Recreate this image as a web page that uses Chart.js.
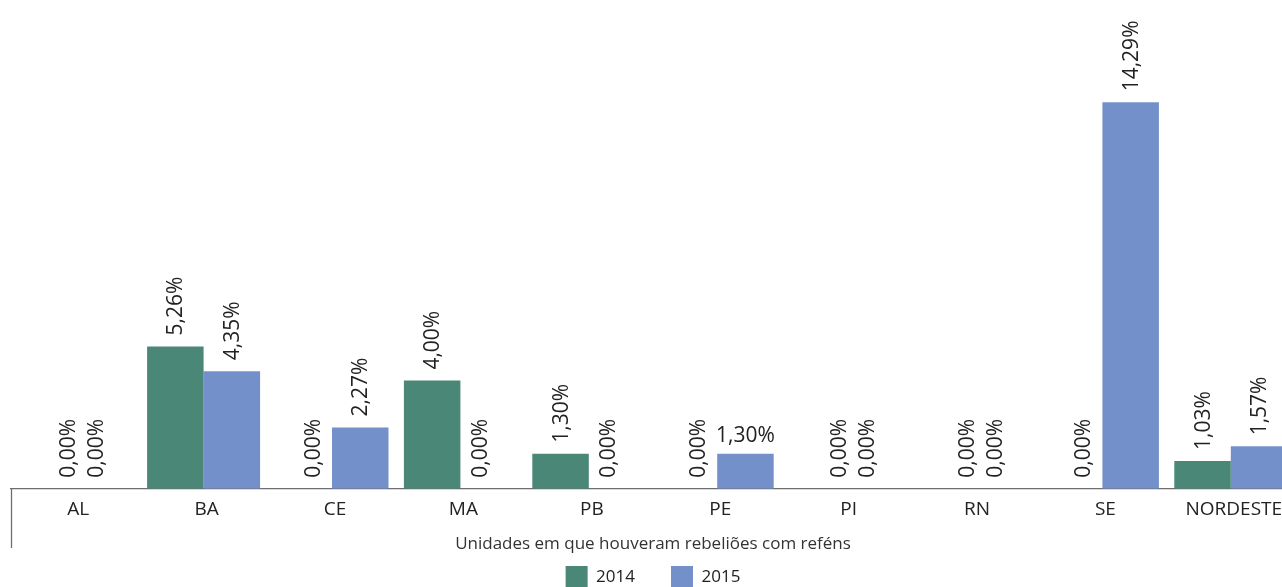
<!DOCTYPE html>
<html lang="pt-BR">
<head>
<meta charset="utf-8">
<title>Rebeliões com reféns</title>
<script src="https://cdn.jsdelivr.net/npm/chart.js@4.4.1/dist/chart.umd.min.js"></script>
<style>
  html, body { margin:0; padding:0; background:#fff; overflow:hidden; }
  #wrap { position:relative; width:1295px; height:598px; }
</style>
</head>
<body>
<div id="wrap"><canvas id="grafico"></canvas></div>
<script>
// dados (percentual de unidades com rebeliões com reféns)
const categorias = ['AL', 'BA', 'CE', 'MA', 'PB', 'PE', 'PI', 'RN', 'SE', 'NORDESTE'];
const serie2014 = [0, 5.26, 0, 4.00, 1.30, 0, 0, 0, 0, 1.03];
const serie2015 = [0, 4.35, 2.27, 0, 0, 1.30, 0, 0, 14.29, 1.57];
const anos = ['2014', '2015'];
const eixoTitulo = 'Unidades em que houveram rebeliões com reféns';
// rótulo que o original mostra na horizontal (ano -> categorias)
const rotulosDeitados = { '2015': ['PE'] };

const cores = ['#4A8776', '#7490CA'];
const fonte = '"Open Sans", "DejaVu Sans", sans-serif';
const pct = v => v.toFixed(2).replace('.', ',') + '%';

// rótulos de valor acima das barras
const rotulos = {
  id: 'rotulos',
  afterDatasetsDraw(chart) {
    const ctx = chart.ctx, xs = chart.scales.x;
    const dsets = chart.data.datasets;
    ctx.save();
    ctx.font = '21px ' + fonte;
    ctx.fillStyle = '#222';
    dsets.forEach((ds, d) => {
      chart.getDatasetMeta(d).data.forEach((bar, i) => {
        const v = ds.data[i];
        const centro = xs.getPixelForValue(i);
        let x = bar.x;
        if (v === 0) {
          const outro = dsets[1 - d].data[i];
          if (outro === 0) x = centro + 7 + (d === 0 ? -14 : 14);
          else x = bar.x + (centro - bar.x) * 0.32;
        }
        const deitado = (rotulosDeitados[ds.label] || []).includes(categorias[i]);
        if (deitado) {
          ctx.textAlign = 'center';
          ctx.textBaseline = 'bottom';
          ctx.fillText(pct(v), x, bar.y - 7);
        } else {
          ctx.save();
          ctx.translate(x, bar.y - 11);
          ctx.rotate(-Math.PI / 2);
          ctx.textAlign = 'left';
          ctx.textBaseline = 'middle';
          ctx.fillText(pct(v), 0, 1);
          ctx.restore();
        }
      });
    });
    ctx.restore();
  }
};

// traço vertical à esquerda, abaixo do eixo
const bordaEsquerda = {
  id: 'bordaEsquerda',
  afterDraw(chart) {
    const { ctx, chartArea } = chart;
    const eixo = chart.scales.x;
    ctx.save();
    ctx.strokeStyle = '#6e6e6e';
    ctx.lineWidth = 1.3;
    ctx.beginPath();
    ctx.moveTo(chartArea.left + 0.5, chartArea.bottom);
    ctx.lineTo(chartArea.left + 0.5, eixo.bottom + 18);
    ctx.stroke();
    ctx.restore();
  }
};

new Chart(document.getElementById('grafico'), {
  type: 'bar',
  data: {
    labels: categorias,
    datasets: [
      { label: anos[0], data: serie2014, backgroundColor: cores[0] },
      { label: anos[1], data: serie2015, backgroundColor: cores[1] }
    ]
  },
  options: {
    responsive: true,
    maintainAspectRatio: false,
    animation: false,
    layout: { padding: { left: 11, top: 2, right: 0, bottom: 0 } },
    datasets: { bar: { categoryPercentage: 0.88, barPercentage: 1 } },
    scales: {
      x: {
        grid: { display: false, drawTicks: false },
        border: { color: '#6e6e6e', width: 1.3 },
        ticks: { color: '#222', font: { family: fonte, size: 19 }, padding: 9, labelOffset: 3, maxRotation: 0, autoSkip: false },
        title: { display: true, text: eixoTitulo, color: '#333', font: { family: fonte, size: 17 }, padding: { top: 4, bottom: -24 } }
      },
      y: { display: false, min: 0, max: 18 }
    },
    plugins: {
      legend: {
        position: 'bottom',
        labels: { boxWidth: 22, boxHeight: 22, padding: 36, color: '#222', font: { family: fonte, size: 17 } }
      },
      tooltip: { enabled: false }
    }
  },
  plugins: [rotulos, bordaEsquerda]
});
</script>
</body>
</html>
